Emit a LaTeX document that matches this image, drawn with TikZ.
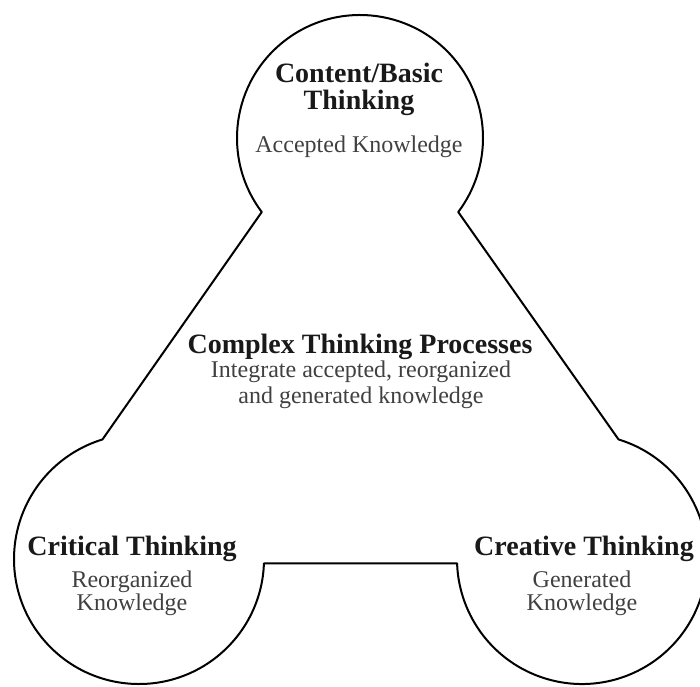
\documentclass[tikz,border=0pt]{standalone}
\usepackage{fontspec}
\setmainfont{Liberation Serif}
\usepackage{tikz}
\usetikzlibrary{calc}

\tikzset{
  head/.style={font=\fontsize{28}{27}\selectfont\bfseries, text=black!90,
               align=center, inner sep=0pt, anchor=base},
  note/.style={font=\fontsize{24}{23}\selectfont, text=black!75,
               align=center, inner sep=0pt, anchor=base}
}

\begin{document}
\begin{tikzpicture}[x=1pt,y=1pt]
\clip (0,0) rectangle (700,686);
\coordinate (top) at (360,548);
\coordinate (left) at (139,127);
\coordinate (right) at (582,127);
% one outline round the three circles
\draw[line width=2pt, line join=round]
  ($(top)+(217:123pt)$) arc[start angle=217, end angle=-37, radius=123pt]
  -- ($(right)+(73:125pt)$) arc[start angle=73, end angle=-178, radius=125pt]
  -- ($(left)+(-2:125pt)$) arc[start angle=-2, end angle=-253, radius=125pt]
  -- cycle;
% texts
\node[head] (content) at (359,576) {Content/Basic\\Thinking};
\node[note] (accepted) at (359,533) {Accepted Knowledge};
\node[head] (complex) at (360,333) {Complex Thinking Processes};
\node[note] (integrate) at (361,283) {Integrate accepted, reorganized\\[3pt]and generated knowledge};
\node[head] (critical) at (132,131) {Critical Thinking};
\node[note] (reorganized) at (132,76) {Reorganized\\Knowledge};
\node[head] (creative) at (584,131) {Creative Thinking};
\node[note] (generated) at (582,76) {Generated\\Knowledge};
\end{tikzpicture}
\end{document}
